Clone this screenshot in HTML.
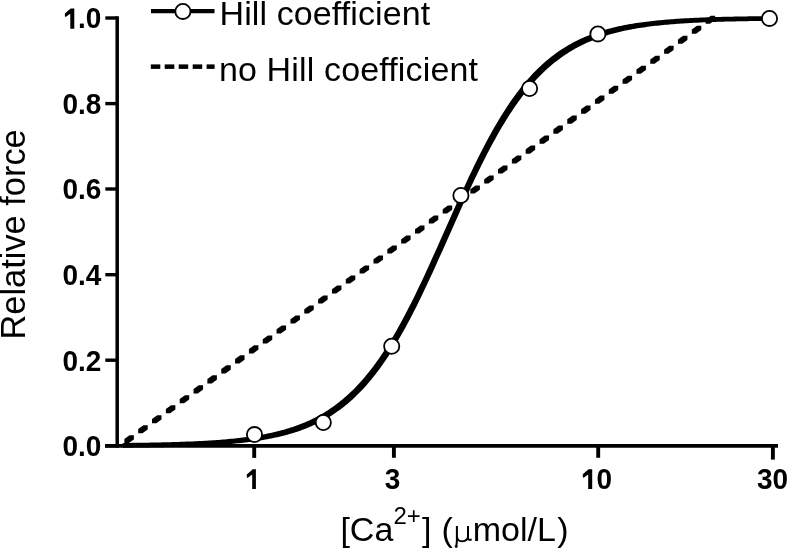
<!DOCTYPE html>
<html><head><meta charset="utf-8"><style>
html,body{margin:0;padding:0;background:#fff;width:788px;height:549px;overflow:hidden}
svg{display:block;will-change:transform}
.tb{font-family:"Liberation Sans",sans-serif;font-weight:bold;font-size:28px;fill:#000}
.tr{font-family:"Liberation Sans",sans-serif;font-size:34px;fill:#000}
</style></head><body>
<svg width="788" height="549" viewBox="0 0 788 549">
<g fill="#000">
<polygon points="124.35,443.33 124.35,439.03 129.55,435.27 133.85,435.27 133.85,439.57 128.65,443.33"/>
<polygon points="138.19,433.34 138.19,429.04 143.39,425.28 147.69,425.28 147.69,429.58 142.49,433.34"/>
<polygon points="152.03,423.35 152.03,419.05 157.23,415.29 161.53,415.29 161.53,419.59 156.33,423.35"/>
<polygon points="165.87,413.36 165.87,409.06 171.07,405.30 175.37,405.30 175.37,409.60 170.17,413.36"/>
<polygon points="179.71,403.37 179.71,399.07 184.91,395.31 189.21,395.31 189.21,399.61 184.01,403.37"/>
<polygon points="193.55,393.38 193.55,389.08 198.75,385.32 203.05,385.32 203.05,389.62 197.85,393.38"/>
<polygon points="207.39,383.39 207.39,379.09 212.59,375.34 216.89,375.34 216.89,379.64 211.69,383.39"/>
<polygon points="221.23,373.40 221.23,369.10 226.43,365.35 230.73,365.35 230.73,369.65 225.53,373.40"/>
<polygon points="235.07,363.41 235.07,359.11 240.27,355.36 244.57,355.36 244.57,359.66 239.37,363.41"/>
<polygon points="248.91,353.42 248.91,349.12 254.11,345.37 258.41,345.37 258.41,349.67 253.21,353.42"/>
<polygon points="262.75,343.43 262.75,339.13 267.95,335.38 272.25,335.38 272.25,339.68 267.05,343.43"/>
<polygon points="276.59,333.44 276.59,329.14 281.79,325.39 286.09,325.39 286.09,329.69 280.89,333.44"/>
<polygon points="290.43,323.45 290.43,319.15 295.63,315.40 299.93,315.40 299.93,319.70 294.73,323.45"/>
<polygon points="304.27,313.46 304.27,309.16 309.47,305.41 313.77,305.41 313.77,309.71 308.57,313.46"/>
<polygon points="318.11,303.47 318.11,299.17 323.31,295.42 327.61,295.42 327.61,299.72 322.41,303.47"/>
<polygon points="331.95,293.48 331.95,289.18 337.15,285.43 341.45,285.43 341.45,289.73 336.25,293.48"/>
<polygon points="345.79,283.49 345.79,279.19 350.99,275.44 355.29,275.44 355.29,279.74 350.09,283.49"/>
<polygon points="359.63,273.50 359.63,269.20 364.83,265.45 369.13,265.45 369.13,269.75 363.93,273.50"/>
<polygon points="373.47,263.51 373.47,259.21 378.67,255.46 382.97,255.46 382.97,259.76 377.77,263.51"/>
<polygon points="387.31,253.52 387.31,249.22 392.51,245.47 396.81,245.47 396.81,249.77 391.61,253.52"/>
<polygon points="401.15,243.53 401.15,239.23 406.35,235.48 410.65,235.48 410.65,239.78 405.45,243.53"/>
<polygon points="414.99,233.54 414.99,229.24 420.19,225.49 424.49,225.49 424.49,229.79 419.29,233.54"/>
<polygon points="428.83,223.55 428.83,219.25 434.03,215.50 438.33,215.50 438.33,219.80 433.13,223.55"/>
<polygon points="442.67,213.56 442.67,209.26 447.87,205.51 452.17,205.51 452.17,209.81 446.97,213.56"/>
<polygon points="456.51,203.57 456.51,199.27 461.71,195.52 466.01,195.52 466.01,199.82 460.81,203.57"/>
<polygon points="470.35,193.58 470.35,189.28 475.55,185.53 479.85,185.53 479.85,189.83 474.65,193.58"/>
<polygon points="484.19,183.59 484.19,179.29 489.39,175.54 493.69,175.54 493.69,179.84 488.49,183.59"/>
<polygon points="498.03,173.60 498.03,169.30 503.23,165.55 507.53,165.55 507.53,169.85 502.33,173.60"/>
<polygon points="511.87,163.61 511.87,159.31 517.07,155.56 521.37,155.56 521.37,159.86 516.17,163.61"/>
<polygon points="525.71,153.63 525.71,149.33 530.91,145.57 535.21,145.57 535.21,149.87 530.01,153.63"/>
<polygon points="539.55,143.64 539.55,139.34 544.75,135.58 549.05,135.58 549.05,139.88 543.85,143.64"/>
<polygon points="553.39,133.65 553.39,129.35 558.59,125.59 562.89,125.59 562.89,129.89 557.69,133.65"/>
<polygon points="567.23,123.66 567.23,119.36 572.43,115.60 576.73,115.60 576.73,119.90 571.53,123.66"/>
<polygon points="581.07,113.67 581.07,109.37 586.27,105.61 590.57,105.61 590.57,109.91 585.37,113.67"/>
<polygon points="594.91,103.68 594.91,99.38 600.11,95.62 604.41,95.62 604.41,99.92 599.21,103.68"/>
<polygon points="608.75,93.69 608.75,89.39 613.95,85.63 618.25,85.63 618.25,89.93 613.05,93.69"/>
<polygon points="622.59,83.70 622.59,79.40 627.79,75.64 632.09,75.64 632.09,79.94 626.89,83.70"/>
<polygon points="636.43,73.71 636.43,69.41 641.63,65.65 645.93,65.65 645.93,69.95 640.73,73.71"/>
<polygon points="650.27,63.72 650.27,59.42 655.47,55.66 659.77,55.66 659.77,59.96 654.57,63.72"/>
<polygon points="664.11,53.73 664.11,49.43 669.31,45.67 673.61,45.67 673.61,49.97 668.41,53.73"/>
<polygon points="677.95,43.74 677.95,39.44 683.15,35.68 687.45,35.68 687.45,39.98 682.25,43.74"/>
<polygon points="691.79,33.75 691.79,29.45 696.99,25.70 701.29,25.70 701.29,30.00 696.09,33.75"/>
<polygon points="705.63,23.76 705.63,19.46 710.83,15.71 715.13,15.71 715.13,20.01 709.93,23.76"/>
</g>
<polygon fill="#000" points="122.65,447.67 122.65,442.97 124.65,442.95 126.65,442.93 128.65,442.91 130.65,442.89 132.65,442.86 134.65,442.84 136.65,442.81 138.65,442.78 140.65,442.76 142.65,442.73 144.65,442.69 146.65,442.66 148.65,442.63 150.65,442.59 152.65,442.56 154.65,442.52 156.65,442.48 158.65,442.44 160.65,442.39 162.65,442.35 164.65,442.30 166.65,442.25 168.65,442.20 170.65,442.14 172.65,442.09 174.65,442.03 176.65,441.97 178.65,441.91 180.65,441.84 182.65,441.77 184.65,441.70 186.65,441.62 188.65,441.54 190.65,441.46 192.65,441.38 194.65,441.29 196.65,441.20 198.65,441.10 200.65,441.00 202.65,440.89 204.65,440.78 206.65,440.67 208.65,440.55 210.65,440.43 212.65,440.30 214.65,440.16 216.65,440.02 218.65,439.88 220.65,439.72 222.65,439.56 224.65,439.40 226.65,439.22 228.65,439.04 230.65,438.86 232.65,438.66 234.65,438.46 236.65,438.24 238.65,438.02 240.65,437.79 242.65,437.55 244.65,437.30 246.65,437.04 248.65,436.77 250.65,436.48 252.65,436.19 254.65,435.88 256.65,435.56 258.65,435.23 260.65,434.88 262.65,434.52 264.65,434.14 266.65,433.75 268.65,433.34 270.65,432.92 272.65,432.48 274.65,432.02 276.65,431.54 278.65,431.04 280.65,430.52 282.65,429.98 284.65,429.42 286.65,428.83 288.65,428.23 290.65,427.59 292.65,426.94 294.65,426.25 296.65,425.54 298.65,424.81 300.65,424.04 302.65,423.24 304.65,422.41 306.65,421.55 308.65,420.66 310.65,419.73 312.65,418.77 314.65,417.77 316.65,416.73 318.65,415.66 320.65,414.54 322.65,413.38 324.65,412.18 326.65,410.93 328.65,409.64 330.65,408.31 332.65,406.92 334.65,405.49 336.65,404.00 338.65,402.46 340.65,400.87 342.65,399.23 344.65,397.53 346.65,395.77 348.65,393.95 350.65,392.07 352.65,390.14 354.65,388.14 356.65,386.07 358.65,383.94 360.65,381.75 362.65,379.49 364.65,377.16 366.65,374.76 368.65,372.29 370.65,369.75 372.65,367.14 374.65,364.46 376.65,361.71 378.65,358.88 380.65,355.98 382.65,353.01 384.65,349.96 386.65,346.84 388.65,343.65 390.65,340.39 392.65,337.05 394.65,333.64 396.65,330.16 398.65,326.61 400.65,323.00 402.65,319.31 404.65,315.56 406.65,311.75 408.65,307.87 410.65,303.93 412.65,299.94 414.65,295.88 416.65,291.78 418.65,287.62 420.65,283.42 422.65,279.17 424.65,274.88 426.65,270.55 428.65,266.19 430.65,261.79 432.65,257.37 434.65,252.92 436.65,248.45 438.65,243.97 440.65,239.47 442.65,234.96 444.65,230.45 446.65,225.94 448.65,221.43 450.65,216.93 452.65,212.44 454.65,207.96 456.65,203.51 458.65,199.07 460.65,194.67 462.65,190.29 464.65,185.95 466.65,181.64 468.65,177.37 470.65,173.15 472.65,168.98 474.65,164.85 476.65,160.78 478.65,156.76 480.65,152.80 482.65,148.90 484.65,145.06 486.65,141.28 488.65,137.57 490.65,133.93 492.65,130.35 494.65,126.84 496.65,123.40 498.65,120.04 500.65,116.75 502.65,113.52 504.65,110.38 506.65,107.30 508.65,104.30 510.65,101.37 512.65,98.51 514.65,95.73 516.65,93.02 518.65,90.38 520.65,87.82 522.65,85.32 524.65,82.89 526.65,80.54 528.65,78.25 530.65,76.03 532.65,73.87 534.65,71.78 536.65,69.76 538.65,67.79 540.65,65.89 542.65,64.05 544.65,62.27 546.65,60.55 548.65,58.88 550.65,57.27 552.65,55.71 554.65,54.20 556.65,52.75 558.65,51.34 560.65,49.99 562.65,48.68 564.65,47.41 566.65,46.19 568.65,45.02 570.65,43.89 572.65,42.79 574.65,41.74 576.65,40.73 578.65,39.75 580.65,38.81 582.65,37.90 584.65,37.03 586.65,36.18 588.65,35.38 590.65,34.60 592.65,33.85 594.65,33.13 596.65,32.43 598.65,31.77 600.65,31.12 602.65,30.51 604.65,29.91 606.65,29.34 608.65,28.79 610.65,28.27 612.65,27.76 614.65,27.27 616.65,26.81 618.65,26.36 620.65,25.92 622.65,25.51 624.65,25.11 626.65,24.73 628.65,24.36 630.65,24.01 632.65,23.67 634.65,23.34 636.65,23.03 638.65,22.73 640.65,22.44 642.65,22.17 644.65,21.90 646.65,21.65 648.65,21.40 650.65,21.17 652.65,20.94 654.65,20.73 656.65,20.52 658.65,20.32 660.65,20.13 662.65,19.95 664.65,19.77 666.65,19.60 668.65,19.44 670.65,19.29 672.65,19.14 674.65,18.99 676.65,18.86 678.65,18.72 680.65,18.60 682.65,18.48 684.65,18.36 686.65,18.25 688.65,18.14 690.65,18.04 692.65,17.94 694.65,17.85 696.65,17.76 698.65,17.67 700.65,17.59 702.65,17.51 704.65,17.43 706.65,17.36 708.65,17.29 710.65,17.22 712.65,17.16 714.65,17.09 716.65,17.03 718.65,16.98 720.65,16.92 722.65,16.87 724.65,16.82 726.65,16.77 728.65,16.73 730.65,16.68 732.65,16.64 734.65,16.60 736.65,16.56 738.65,16.52 740.65,16.49 742.65,16.45 744.65,16.42 746.65,16.39 748.65,16.36 750.65,16.33 752.65,16.30 754.65,16.27 756.65,16.25 758.65,16.22 760.65,16.20 762.65,16.18 764.65,16.15 766.65,16.13 771.35,16.13 771.35,20.83 769.35,20.85 767.35,20.88 765.35,20.90 763.35,20.92 761.35,20.95 759.35,20.97 757.35,21.00 755.35,21.03 753.35,21.06 751.35,21.09 749.35,21.12 747.35,21.15 745.35,21.19 743.35,21.22 741.35,21.26 739.35,21.30 737.35,21.34 735.35,21.38 733.35,21.43 731.35,21.47 729.35,21.52 727.35,21.57 725.35,21.62 723.35,21.68 721.35,21.73 719.35,21.79 717.35,21.86 715.35,21.92 713.35,21.99 711.35,22.06 709.35,22.13 707.35,22.21 705.35,22.29 703.35,22.37 701.35,22.46 699.35,22.55 697.35,22.64 695.35,22.74 693.35,22.84 691.35,22.95 689.35,23.06 687.35,23.18 685.35,23.30 683.35,23.42 681.35,23.56 679.35,23.69 677.35,23.84 675.35,23.99 673.35,24.14 671.35,24.30 669.35,24.47 667.35,24.65 665.35,24.83 663.35,25.02 661.35,25.22 659.35,25.43 657.35,25.64 655.35,25.87 653.35,26.10 651.35,26.35 649.35,26.60 647.35,26.87 645.35,27.14 643.35,27.43 641.35,27.73 639.35,28.04 637.35,28.37 635.35,28.71 633.35,29.06 631.35,29.43 629.35,29.81 627.35,30.21 625.35,30.62 623.35,31.06 621.35,31.51 619.35,31.97 617.35,32.46 615.35,32.97 613.35,33.49 611.35,34.04 609.35,34.61 607.35,35.21 605.35,35.82 603.35,36.47 601.35,37.13 599.35,37.83 597.35,38.55 595.35,39.30 593.35,40.08 591.35,40.88 589.35,41.73 587.35,42.60 585.35,43.51 583.35,44.45 581.35,45.43 579.35,46.44 577.35,47.49 575.35,48.59 573.35,49.72 571.35,50.89 569.35,52.11 567.35,53.38 565.35,54.69 563.35,56.04 561.35,57.45 559.35,58.90 557.35,60.41 555.35,61.97 553.35,63.58 551.35,65.25 549.35,66.97 547.35,68.75 545.35,70.59 543.35,72.49 541.35,74.46 539.35,76.48 537.35,78.57 535.35,80.73 533.35,82.95 531.35,85.24 529.35,87.59 527.35,90.02 525.35,92.52 523.35,95.08 521.35,97.72 519.35,100.43 517.35,103.21 515.35,106.07 513.35,109.00 511.35,112.00 509.35,115.08 507.35,118.22 505.35,121.45 503.35,124.74 501.35,128.10 499.35,131.54 497.35,135.05 495.35,138.63 493.35,142.27 491.35,145.98 489.35,149.76 487.35,153.60 485.35,157.50 483.35,161.46 481.35,165.48 479.35,169.55 477.35,173.68 475.35,177.85 473.35,182.07 471.35,186.34 469.35,190.65 467.35,194.99 465.35,199.37 463.35,203.77 461.35,208.21 459.35,212.66 457.35,217.14 455.35,221.63 453.35,226.13 451.35,230.64 449.35,235.15 447.35,239.66 445.35,244.17 443.35,248.67 441.35,253.15 439.35,257.62 437.35,262.07 435.35,266.49 433.35,270.89 431.35,275.25 429.35,279.58 427.35,283.87 425.35,288.12 423.35,292.32 421.35,296.48 419.35,300.58 417.35,304.64 415.35,308.63 413.35,312.57 411.35,316.45 409.35,320.26 407.35,324.01 405.35,327.70 403.35,331.31 401.35,334.86 399.35,338.34 397.35,341.75 395.35,345.09 393.35,348.35 391.35,351.54 389.35,354.66 387.35,357.71 385.35,360.68 383.35,363.58 381.35,366.41 379.35,369.16 377.35,371.84 375.35,374.45 373.35,376.99 371.35,379.46 369.35,381.86 367.35,384.19 365.35,386.45 363.35,388.64 361.35,390.77 359.35,392.84 357.35,394.84 355.35,396.77 353.35,398.65 351.35,400.47 349.35,402.23 347.35,403.93 345.35,405.57 343.35,407.16 341.35,408.70 339.35,410.19 337.35,411.62 335.35,413.01 333.35,414.34 331.35,415.63 329.35,416.88 327.35,418.08 325.35,419.24 323.35,420.36 321.35,421.43 319.35,422.47 317.35,423.47 315.35,424.43 313.35,425.36 311.35,426.25 309.35,427.11 307.35,427.94 305.35,428.74 303.35,429.51 301.35,430.24 299.35,430.95 297.35,431.64 295.35,432.29 293.35,432.93 291.35,433.53 289.35,434.12 287.35,434.68 285.35,435.22 283.35,435.74 281.35,436.24 279.35,436.72 277.35,437.18 275.35,437.62 273.35,438.04 271.35,438.45 269.35,438.84 267.35,439.22 265.35,439.58 263.35,439.93 261.35,440.26 259.35,440.58 257.35,440.89 255.35,441.18 253.35,441.47 251.35,441.74 249.35,442.00 247.35,442.25 245.35,442.49 243.35,442.72 241.35,442.94 239.35,443.16 237.35,443.36 235.35,443.56 233.35,443.74 231.35,443.92 229.35,444.10 227.35,444.26 225.35,444.42 223.35,444.58 221.35,444.72 219.35,444.86 217.35,445.00 215.35,445.13 213.35,445.25 211.35,445.37 209.35,445.48 207.35,445.59 205.35,445.70 203.35,445.80 201.35,445.90 199.35,445.99 197.35,446.08 195.35,446.16 193.35,446.24 191.35,446.32 189.35,446.40 187.35,446.47 185.35,446.54 183.35,446.61 181.35,446.67 179.35,446.73 177.35,446.79 175.35,446.84 173.35,446.90 171.35,446.95 169.35,447.00 167.35,447.05 165.35,447.09 163.35,447.14 161.35,447.18 159.35,447.22 157.35,447.26 155.35,447.29 153.35,447.33 151.35,447.36 149.35,447.39 147.35,447.43 145.35,447.46 143.35,447.48 141.35,447.51 139.35,447.54 137.35,447.56 135.35,447.59 133.35,447.61 131.35,447.63 129.35,447.65 127.35,447.67"/>
<line x1="117.2" y1="16.3" x2="117.2" y2="447.7" stroke="#000" stroke-width="3.5"/>
<line x1="105" y1="445.8" x2="778" y2="445.8" stroke="#000" stroke-width="3.8"/>
<line x1="105.3" y1="18.0" x2="117.2" y2="18.0" stroke="#000" stroke-width="3.4"/>
<polygon points="70.80,8.50 74.30,8.50 74.30,28.70 70.30,28.70 70.30,13.80 65.60,17.10 64.90,16.20 64.90,13.60 69.50,9.60" fill="#000"/>
<text x="101.3" y="28.4" text-anchor="end" class="tb" transform="matrix(1,0,0,1.0450,0,-1.278)">.0</text>
<line x1="105.3" y1="103.6" x2="117.2" y2="103.6" stroke="#000" stroke-width="3.4"/>
<text x="101.3" y="114.0" text-anchor="end" class="tb" transform="matrix(1,0,0,1.0450,0,-5.130)">0.8</text>
<line x1="105.3" y1="189.0" x2="117.2" y2="189.0" stroke="#000" stroke-width="3.4"/>
<text x="101.3" y="199.4" text-anchor="end" class="tb" transform="matrix(1,0,0,1.0450,0,-8.973)">0.6</text>
<line x1="105.3" y1="274.7" x2="117.2" y2="274.7" stroke="#000" stroke-width="3.4"/>
<text x="101.3" y="285.1" text-anchor="end" class="tb" transform="matrix(1,0,0,1.0450,0,-12.829)">0.4</text>
<line x1="105.3" y1="360.2" x2="117.2" y2="360.2" stroke="#000" stroke-width="3.4"/>
<text x="101.3" y="370.6" text-anchor="end" class="tb" transform="matrix(1,0,0,1.0450,0,-16.677)">0.2</text>
<line x1="105.3" y1="445.8" x2="117.2" y2="445.8" stroke="#000" stroke-width="3.4"/>
<text x="101.3" y="456.2" text-anchor="end" class="tb" transform="matrix(1,0,0,1.0450,0,-20.529)">0.0</text>
<line x1="254.2" y1="445.8" x2="254.2" y2="457.9" stroke="#000" stroke-width="3.9"/>
<line x1="393.9" y1="445.8" x2="393.9" y2="457.8" stroke="#000" stroke-width="3.9"/>
<line x1="598.2" y1="445.8" x2="598.2" y2="457.8" stroke="#000" stroke-width="3.9"/>
<line x1="772.9" y1="445.8" x2="772.9" y2="459.6" stroke="#000" stroke-width="3.9"/>
<polygon points="252.70,469.30 255.90,469.30 255.90,489.00 252.20,489.00 252.20,474.60 247.50,477.90 246.80,477.00 246.80,474.40 251.40,470.40" fill="#000"/>
<polygon points="588.70,469.20 592.20,469.20 592.20,489.00 588.20,489.00 588.20,474.50 583.50,477.80 582.80,476.90 582.80,474.30 587.40,470.30" fill="#000"/>
<text x="392.6" y="489" text-anchor="middle" class="tb" transform="matrix(1,0,0,1.0450,0,-22.005)">3</text>
<text x="596.6" y="489" class="tb" transform="matrix(1,0,0,1.0450,0,-22.005)">0</text>
<text x="756.9" y="489" class="tb" transform="matrix(1,0,0,1.0450,0,-22.005)">30</text>
<circle cx="254.5" cy="434.6" r="7.6" fill="#fff" stroke="#000" stroke-width="1.8"/>
<circle cx="323.3" cy="422.5" r="7.6" fill="#fff" stroke="#000" stroke-width="1.8"/>
<circle cx="391.7" cy="346.2" r="7.6" fill="#fff" stroke="#000" stroke-width="1.8"/>
<circle cx="460.9" cy="195.4" r="7.6" fill="#fff" stroke="#000" stroke-width="1.8"/>
<circle cx="529.6" cy="88.5" r="7.6" fill="#fff" stroke="#000" stroke-width="1.8"/>
<circle cx="597.9" cy="33.9" r="7.6" fill="#fff" stroke="#000" stroke-width="1.8"/>
<circle cx="769.5" cy="18.4" r="7.6" fill="#fff" stroke="#000" stroke-width="1.8"/>
<line x1="151" y1="11.2" x2="214.5" y2="11.2" stroke="#000" stroke-width="4.2"/>
<circle cx="182.9" cy="11.4" r="7.6" fill="#fff" stroke="#000" stroke-width="1.8"/>
<rect x="150.8" y="64.4" width="9.5" height="4.5" fill="#000"/>
<rect x="164.7" y="64.4" width="9.6" height="4.5" fill="#000"/>
<rect x="178.7" y="64.4" width="9.5" height="4.5" fill="#000"/>
<rect x="192.7" y="64.4" width="9.5" height="4.5" fill="#000"/>
<rect x="206.6" y="64.4" width="8.0" height="4.5" fill="#000"/>
<text x="219.5" y="25" class="tr" style="letter-spacing:0.1px">Hill coefficient</text>
<text x="218.9" y="80.5" class="tr" style="letter-spacing:0.15px">no Hill coefficient</text>
<text transform="translate(25.4,234.4) rotate(-90)" text-anchor="middle" class="tr" style="font-size:34.4px">Relative force</text>
<text x="340.4" y="541.2" class="tr">[Ca</text>
<text x="393.5" y="524" class="tr" style="font-size:24px">2+</text>
<text x="422.1" y="541.2" class="tr">]</text>
<text x="441.5" y="541.2" class="tr">(</text>
<g fill="none" stroke="#000" stroke-width="2"><path d="M456.9,525.9 L456.9,540 Q456.7,544 456.3,546.3"/><path d="M456.9,536.5 Q457.4,541.3 461.9,541.3 Q466.4,541.3 468,537.3"/><path d="M468,525.9 L468,538.6 Q468.4,540.7 471.7,539.3"/></g><circle cx="456.2" cy="546.6" r="1.45" fill="#000"/>
<text x="472.8" y="541.2" class="tr">mol/L</text>
<text x="557.3" y="541.2" class="tr">)</text>
</svg>
</body></html>
